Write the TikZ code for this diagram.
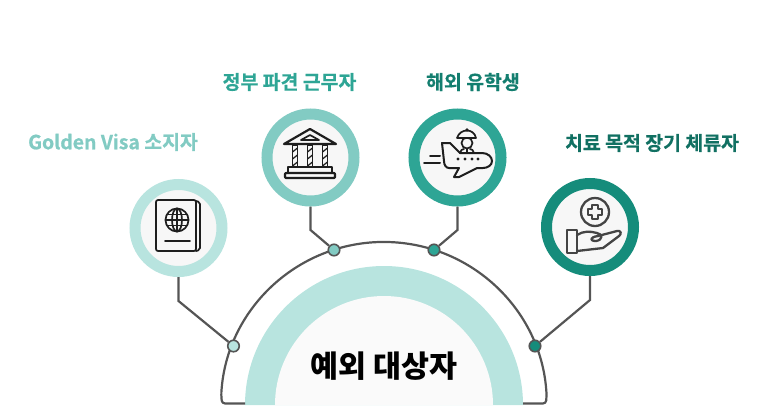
\documentclass[tikz,border=0pt]{standalone}
\usepackage{fontspec}
\setmainfont{Noto Sans CJK KR}[BoldFont={Noto Sans CJK KR Bold},BoldFeatures={FakeBold=0.6}]
\newfontfamily\heavyfont{Noto Sans CJK KR Black}
\usepackage{color}
\definecolor{tintA}{HTML}{B8E4DF}
\definecolor{tintB}{HTML}{82CBC3}
\definecolor{tintC}{HTML}{2EA595}
\definecolor{tintD}{HTML}{158C7B}
\definecolor{wire}{HTML}{555555}
\definecolor{ink}{HTML}{1E1E1E}

\begin{document}
\begin{tikzpicture}[
	x=1pt,y=-1pt,
	ring/.style={circle,draw=#1,line width=11pt,fill=black!3,minimum size=87pt,inner sep=0pt},
	dot/.style={circle,draw=wire,line width=1.6pt,fill=#1,minimum size=11.5pt,inner sep=0pt},
	link/.style={draw=wire,line width=2.2pt},
	tag/.style={font=\bfseries\fontsize{19.4pt}{22pt}\selectfont,text=#1,inner sep=0pt},
	icon/.style={draw=ink,line width=1.7pt,line join=round,line cap=round},
	handicon/.style={draw=wire!80!black,line width=2.3pt,line join=round,line cap=round}]
\useasboundingbox (0,0) rectangle (768,405);

% half dome
\fill[tintA] (245,405) arc[start angle=180,end angle=360,radius=139] -- cycle;
\fill[black!2] (275,405) arc[start angle=180,end angle=360,radius=109] -- cycle;
\draw[link,rounded corners=3pt] (245,403.5) -- (222,403.5) -- (221.2,395) arc[start angle=183.5,end angle=356.5,radius=163] -- (546,403.5) -- (523,403.5);

\node[dot=tintA] (dota) at (233.5,346) {};
\node[dot=tintB] (dotb) at (334,250) {};
\node[dot=tintC] (dotc) at (434,250) {};
\node[dot=tintD] (dotd) at (535,346) {};

\node[ring=tintA] (ringa) at (178.5,228) {};
\node[ring=tintB] (ringb) at (310.5,157.5) {};
\node[ring=tintC] (ringc) at (457.5,157.5) {};
\node[ring=tintD] (ringd) at (590,227) {};

\coordinate (benda) at (178.5,301);
\coordinate (bendb) at (310.5,230);
\coordinate (bendc) at (457.5,230);
\coordinate (bendd) at (590,300);
\draw[link] (ringa) -- (benda) -- (dota);
\draw[link] (ringb) -- (bendb) -- (dotb);
\draw[link] (ringc) -- (bendc) -- (dotc);
\draw[link] (ringd) -- (bendd) -- (dotd);

\node[tag=tintB] (laba) at (113,142) {Golden Visa 소지자};
\node[tag=tintC] (labb) at (289.5,82) {정부 파견 근무자};
\node[tag=tintD!90!black] (labc) at (473,82) {해외 유학생};
\node[tag=tintD!80!black] (labd) at (652,143) {치료 목적 장기 체류자};
\node[font=\heavyfont\fontsize{30.4pt}{34pt}\selectfont,text=black,inner sep=0pt] (main) at (384,366) {예외 대상자};

% passport
\draw[icon,rounded corners=2pt] (156,200) rectangle (196,251);
\draw[icon,rounded corners=2pt] (196,201) -- (200,202) -- (200,250) -- (196,251);
\draw[icon] (177,220) circle[radius=11.5];
\draw[icon] (177,220) ellipse[x radius=5,y radius=11.5];
\draw[icon] (177,208.5) -- (177,231.5) (165.5,220) -- (188.5,220) (167,214.5) -- (187,214.5) (167,225.5) -- (187,225.5);
\draw[icon] (165,241) -- (190,241);

% temple
\draw[icon,line width=2.2pt] (310,129) -- (284,144) -- (336,144) -- cycle;
\draw[icon] (310,135) -- (301,140) -- (319,140) -- cycle;
\foreach \cx in {295,310,325} {
	\draw[icon] (\cx-2.5,145) rectangle (\cx+2.5,167);
	\draw[icon,line width=1.3pt] (\cx-2.5,152) -- (\cx+2.5,148) (\cx-2.5,159) -- (\cx+2.5,155) (\cx-2.5,166) -- (\cx+2.5,162);
}
\draw[icon,line width=2.2pt] (288,173) -- (288,167) -- (332,167) -- (332,173);
\draw[icon,line width=2.2pt,rounded corners=1pt] (285,173) rectangle (335,178);

% plane
\draw[icon,line width=2pt] (442,143) -- (450,143) -- (460,153) -- (482,153) .. controls (488,153) and (492,157) .. (492,161) .. controls (492,165) and (488,168) .. (483,168) -- (477,168) -- (459,177) -- (454,177) -- (459,168) -- (449,168) .. controls (446,168) and (444,165) .. (444,161) -- cycle;
\foreach \cx in {458,465,472,478} {
	\fill[ink] (\cx,159) circle[radius=1.6];
}
\draw[icon,line width=2pt] (430,156) -- (440,156) (424,163) -- (440,163);
\draw[icon] (467,143) circle[radius=5.5];
\draw[icon,fill=black!3] (457,138) .. controls (460,128) and (474,128) .. (476,138) -- cycle;
\fill[ink] (467,130) circle[radius=1.8];
\draw[icon] (460,153) .. controls (460,150) and (463,149) .. (464,149) (474,153) .. controls (474,150) and (471,149) .. (470,149);
\draw[icon,line width=1.2pt] (467,149) -- (467,153);

% hand
\draw[handicon] (595,212) circle[radius=14];
\draw[handicon] (592,205) -- (598,205) -- (598,209) -- (602,209) -- (602,215) -- (598,215) -- (598,219) -- (592,219) -- (592,215) -- (588,215) -- (588,209) -- (592,209) -- cycle;
\draw[handicon] (567,230) rectangle (577,253);
\draw[handicon] (577,235) .. controls (583,231) and (590,231) .. (597,233) .. controls (603,234) and (603,240) .. (596,241) .. controls (589,241) and (590,237) .. (598,236) -- (617,231) .. controls (621,230) and (622,234) .. (619,236) -- (603,248) -- (577,251);
\end{tikzpicture}
\end{document}
